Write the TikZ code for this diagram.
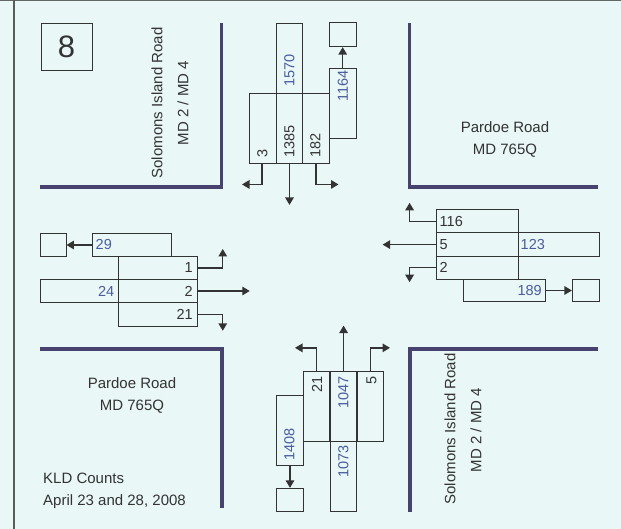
\documentclass[tikz,border=0pt]{standalone}
\usepackage{fontspec}
\setmainfont{Liberation Sans}
\usetikzlibrary{arrows.meta}
\definecolor{bg}{HTML}{E9F7F6}
\definecolor{roadc}{HTML}{48426F}
\definecolor{ink}{HTML}{333333}
\definecolor{bluec}{HTML}{4A5C9E}
\begin{document}
\begin{tikzpicture}[x=1pt,y=-1pt,
  cell/.style={draw=ink, line width=0.9pt, inner sep=0pt, minimum width=#1},
  vcell/.style={cell=26.6pt, minimum height=70pt},
  hcell/.style={draw=ink, line width=0.9pt, inner sep=0pt, minimum height=23.3pt},
  road/.style={draw=roadc, line width=3.4pt, line join=miter},
  flow/.style={draw=ink, line width=1.4pt, -{Triangle[length=7.5pt,width=8.5pt]}},
  num/.style={font=\fontsize{14.5}{16}\selectfont, text=ink, inner sep=0.5pt},
  bnum/.style={num, text=bluec},
  rname/.style={font=\fontsize{15}{17}\selectfont, text=ink, inner sep=0pt}
]
\fill[bg] (0,0) rectangle (621,529);
\useasboundingbox (0,0) rectangle (621,529);
\draw[gray!80!black, line width=1.5pt] (0,0.75) -- (621,0.75);
\draw[ink!80, line width=1.1pt] (14,0) -- (14,529);

% road corners
\draw[road] (221.5,23) -- (221.5,187) -- (40,187);
\draw[road] (409.5,23) -- (409.5,187) -- (598,187);
\draw[road] (40,349) -- (222,349) -- (222,508);
\draw[road] (598,349) -- (410,349) -- (410,512);

% intersection number
\node[draw=ink, line width=0.9pt, minimum width=51pt, minimum height=47pt, inner sep=0pt,
      font=\fontsize{31}{33}\selectfont, text=ink] (num8) at (66.5,46.5) {8};

% road names
\node[rname, rotate=90] (nwA) at (157,103) {Solomons Island Road};
\node[rname, rotate=90] (nwB) at (183,103) {MD 2 / MD 4};
\node[rname] (neA) at (505,127) {Pardoe Road};
\node[rname] (neB) at (505,151) {MD 765Q};
\node[rname] (swA) at (132,383) {Pardoe Road};
\node[rname] (swB) at (132,407) {MD 765Q};
\node[rname, anchor=west] (kld) at (43,478) {KLD Counts};
\node[rname, anchor=west] (date) at (43,502) {April 23 and 28, 2008};
\node[rname, rotate=90] (seA) at (450,429) {Solomons Island Road};
\node[rname, rotate=90] (seB) at (476,430) {MD 2 / MD 4};

% ---------- North approach ----------
\node[vcell] (n1570) at (289.5,58) {};
\node[vcell] (nL) at (263,128) {};
\node[vcell] (nT) at (289.5,128) {};
\node[vcell] (nR) at (316,128) {};
\node[vcell] (n1164) at (342.7,103.5) {};
\node[cell=26.6pt, minimum height=24pt] (nsq) at (342.7,34.7) {};
\draw[flow] (n1164.north) -- (nsq.south);
\draw[flow] (nL.south) ++(-1,0) coordinate (nLs) -- ++(0,21) -- ++(-20,0);
\draw[flow] (nT.south) -- ++(0,41.5);
\draw[flow] (nR.south) -- ++(0,21) -- ++(22.5,0);
\node[bnum, rotate=90, anchor=west] (t1570) at (289.5,87) {1570};
\node[num, rotate=90, anchor=west] (t3) at (262.5,158.5) {3};
\node[num, rotate=90, anchor=west] (t1385) at (289.5,158.5) {1385};
\node[num, rotate=90, anchor=west] (t182) at (315.5,158.5) {182};
\node[bnum, rotate=90, anchor=west] (t1164) at (343,102.5) {1164};

% ---------- West approach ----------
\node[hcell, minimum width=79.4pt] (w1) at (158,268) {};
\node[hcell, minimum width=79.4pt] (w2) at (158,291) {};
\node[hcell, minimum width=79.4pt] (w21) at (158,314.3) {};
\node[hcell, minimum width=78.3pt] (w24) at (79.2,291) {};
\node[hcell, minimum width=78.7pt] (w29) at (131.7,245) {};
\node[hcell, minimum width=26pt] (wsq) at (53,245) {};
\draw[flow] (w29.west) -- (wsq.east);
\draw[flow] (w1.east) -- ++(24.6,0) -- ++(0,-19);
\draw[flow] (w2.east) -- ++(51.6,0);
\draw[flow] (w21.east) -- ++(24.6,0) -- ++(0,16.5);
\node[bnum, anchor=west] (t29) at (95,245) {29};
\node[bnum, anchor=east] (t24) at (115,291) {24};
\node[num, anchor=east] (t1) at (193.5,268) {1};
\node[num, anchor=east] (t2w) at (193.5,291) {2};
\node[num, anchor=east] (t21w) at (193.5,314.3) {21};

% ---------- East approach ----------
\node[hcell, minimum width=82.3pt] (e116) at (477.2,221.3) {};
\node[hcell, minimum width=82.3pt] (e5) at (477.2,244.6) {};
\node[hcell, minimum width=82.3pt] (e2) at (477.2,267.7) {};
\node[hcell, minimum width=80.7pt] (e123) at (558.7,244.6) {};
\node[hcell, minimum width=82.4pt, minimum height=22.4pt] (e189) at (504.5,290.5) {};
\node[hcell, minimum width=26.7pt, minimum height=22.4pt] (esq) at (585.7,290.5) {};
\draw[flow] (e189.east) -- (esq.west);
\draw[flow] (e116.west) -- ++(-26,0) -- ++(0,-18.5);
\draw[flow] (e5.west) -- ++(-53,0);
\draw[flow] (e2.west) -- ++(-26,0) -- ++(0,14.5);
\node[num, anchor=west] (t116) at (439,221.5) {116};
\node[num, anchor=west] (t5e) at (439,244.7) {5};
\node[num, anchor=west] (t2e) at (439,267.7) {2};
\node[bnum, anchor=west] (t123) at (520,244.7) {123};
\node[bnum, anchor=east] (t189) at (542.5,290.5) {189};

% ---------- South approach ----------
\node[vcell] (s21) at (316.6,406.7) {};
\node[vcell] (s1047) at (343.6,406.7) {};
\node[vcell] (s5) at (370.6,406.7) {};
\node[vcell] (s1073) at (343.6,476.7) {};
\node[vcell] (s1408) at (290,430) {};
\node[cell=26.6pt, minimum height=23.4pt] (ssq) at (290,500) {};
\draw[flow] (s1408.south) -- (ssq.north);
\draw[flow] (s21.north) -- ++(0,-23.4) -- ++(-21.6,0);
\draw[flow] (s1047.north) -- ++(0,-45.7);
\draw[flow] (s5.north) -- ++(0,-23.4) -- ++(19.4,0);
\node[num, rotate=90, anchor=east] (t21s) at (317,376) {21};
\node[bnum, rotate=90, anchor=east] (t1047) at (343.5,376) {1047};
\node[num, rotate=90, anchor=east] (t5s) at (371.5,376) {5};
\node[bnum, rotate=90, anchor=east] (t1073) at (343.5,445) {1073};
\node[bnum, rotate=90, anchor=west] (t1408) at (289.5,461) {1408};
\end{tikzpicture}
\end{document}
